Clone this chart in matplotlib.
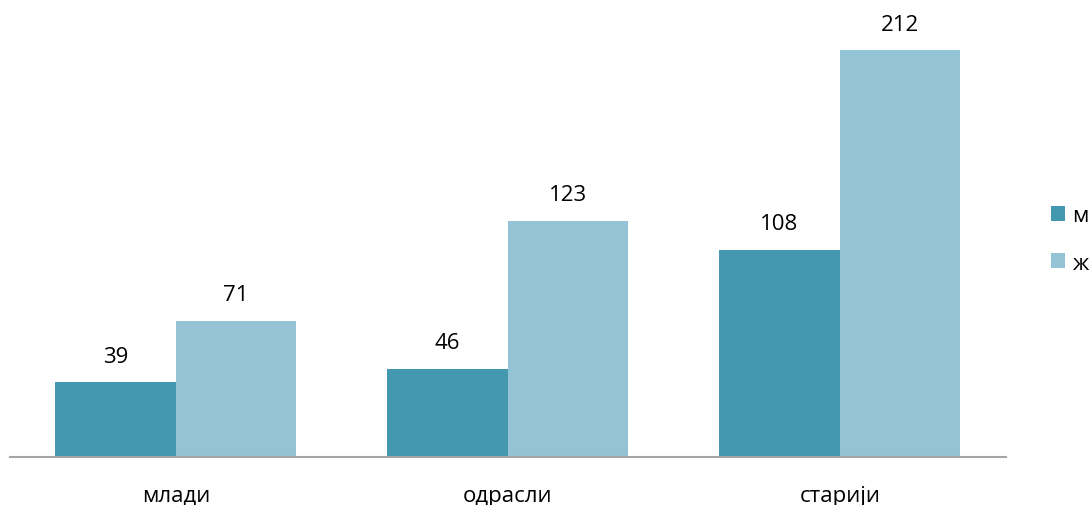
import matplotlib.pyplot as plt
import numpy as np

plt.rcParams['font.family'] = ['Open Sans', 'DejaVu Sans']

# Data
categories = ['млади', 'одрасли', 'старији']
series_names = ['м', 'ж']
male = [39, 46, 108]
female = [71, 123, 212]
colors = ['#4398B0', '#94C3D5']

fig = plt.figure(figsize=(10.92, 5.06), dpi=100)
ax = fig.add_axes([0.009, 0.095, 0.912, 0.905])

x = np.arange(len(categories))
w = 0.363
bars_m = ax.bar(x - w / 2, male, w, color=colors[0], label=series_names[0])
bars_f = ax.bar(x + w / 2, female, w, color=colors[1], label=series_names[1])

for bars in (bars_m, bars_f):
    for bar in bars:
        ax.text(bar.get_x() + bar.get_width() / 2, bar.get_height() + 8,
                f'{int(bar.get_height())}', ha='center', va='bottom', fontsize=16)

ax.set_xlim(-0.5, 2.5)
ax.set_ylim(0, 238.5)
ax.set_xticks(x)
ax.set_xticklabels(categories, fontsize=16)
ax.tick_params(axis='x', length=0, pad=20)
ax.set_yticks([])
for side in ['top', 'right', 'left']:
    ax.spines[side].set_visible(False)
ax.spines['bottom'].set_color('#A6A6A6')
ax.spines['bottom'].set_linewidth(1.5)

fig.legend(handles=[bars_m, bars_f], loc='center left', bbox_to_anchor=(0.952, 0.525),
           frameon=False, fontsize=16, handlelength=0.65, handleheight=0.65,
           handletextpad=0.3, labelspacing=1.2, borderpad=0)

fig.savefig('out.png', dpi=100)
